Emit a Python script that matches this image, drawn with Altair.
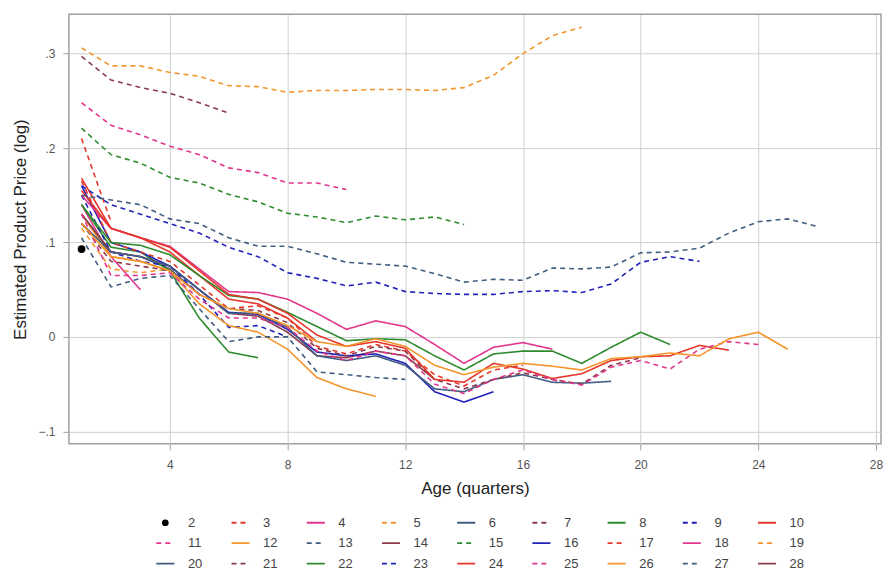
import altair as alt
import pandas as pd

# ---- data: estimated log price by age (quarters), one list per cohort ----
s02 = [0.093]
s03 = [0.210, 0.122]
s04 = [0.140, 0.085, 0.050]
s05 = [0.115, 0.072, 0.068, 0.072]
s06 = [0.130, 0.090, 0.085, 0.072, 0.045]
s07 = [0.297, 0.272, 0.264, 0.258, 0.248, 0.237]
s08 = [0.140, 0.095, 0.090, 0.070, 0.020, -0.016, -0.022]
s09 = [0.150, 0.090, 0.080, 0.075, 0.045, 0.010, 0.012, 0.000]
s10 = [0.168, 0.115, 0.105, 0.090, 0.065, 0.040, 0.035, 0.020, -0.005]
s11 = [0.248, 0.224, 0.214, 0.202, 0.193, 0.179, 0.174, 0.163, 0.163, 0.156]
s12 = [0.130, 0.085, 0.080, 0.070, 0.035, 0.012, 0.005, -0.013, -0.043, -0.055, -0.063]
s13 = [0.105, 0.053, 0.062, 0.065, 0.030, -0.005, 0.000, 0.000, -0.037, -0.040, -0.043, -0.045]
s14 = [0.130, 0.090, 0.085, 0.075, 0.050, 0.025, 0.022, 0.005, -0.020, -0.022, -0.015, -0.020, -0.045]
s15 = [0.221, 0.193, 0.184, 0.169, 0.163, 0.151, 0.143, 0.131, 0.127, 0.121, 0.128, 0.124, 0.127, 0.119]
s16 = [0.160, 0.100, 0.090, 0.075, 0.050, 0.026, 0.024, 0.008, -0.016, -0.020, -0.018, -0.028, -0.058, -0.069, -0.058]
s17 = [0.165, 0.100, 0.090, 0.080, 0.055, 0.030, 0.033, 0.020, -0.010, -0.018, -0.008, -0.015, -0.040, -0.052, -0.035, -0.030]
s18 = [0.150, 0.115, 0.105, 0.096, 0.072, 0.048, 0.047, 0.040, 0.025, 0.008, 0.017, 0.011, -0.008, -0.028, -0.011, -0.006, -0.013]
s19 = [0.306, 0.287, 0.287, 0.280, 0.276, 0.266, 0.265, 0.259, 0.261, 0.261, 0.262, 0.262, 0.261, 0.264, 0.277, 0.300, 0.319, 0.328]
s20 = [0.120, 0.090, 0.085, 0.075, 0.050, 0.025, 0.025, 0.010, -0.020, -0.025, -0.020, -0.030, -0.055, -0.058, -0.045, -0.040, -0.048, -0.049, -0.047]
s21 = [0.120, 0.080, 0.075, 0.070, 0.045, 0.030, 0.028, 0.015, -0.012, -0.020, -0.010, -0.015, -0.045, -0.055, -0.045, -0.038, -0.045, -0.050, -0.030, -0.022]
s22 = [0.140, 0.100, 0.097, 0.087, 0.065, 0.044, 0.040, 0.026, 0.011, -0.004, -0.002, -0.003, -0.020, -0.035, -0.018, -0.015, -0.015, -0.028, -0.011, 0.005, -0.008]
s23 = [0.160, 0.140, 0.130, 0.120, 0.110, 0.095, 0.085, 0.068, 0.062, 0.054, 0.058, 0.048, 0.046, 0.045, 0.045, 0.048, 0.049, 0.047, 0.056, 0.079, 0.085, 0.080]
s24 = [0.155, 0.115, 0.105, 0.095, 0.070, 0.045, 0.040, 0.025, 0.002, -0.010, -0.005, -0.012, -0.045, -0.048, -0.028, -0.034, -0.044, -0.039, -0.025, -0.021, -0.020, -0.009, -0.014]
s25 = [0.130, 0.065, 0.065, 0.068, 0.040, 0.020, 0.020, 0.010, -0.015, -0.025, -0.015, -0.020, -0.050, -0.060, -0.045, -0.035, -0.045, -0.051, -0.032, -0.025, -0.034, -0.013, -0.005, -0.008]
s26 = [0.120, 0.085, 0.080, 0.070, 0.045, 0.030, 0.025, 0.012, -0.005, -0.010, -0.002, -0.010, -0.030, -0.040, -0.032, -0.028, -0.031, -0.035, -0.023, -0.021, -0.017, -0.020, -0.002, 0.005, -0.013]
s27 = [0.150, 0.145, 0.140, 0.125, 0.120, 0.105, 0.096, 0.096, 0.088, 0.079, 0.077, 0.075, 0.067, 0.058, 0.061, 0.060, 0.073, 0.072, 0.074, 0.089, 0.090, 0.094, 0.110, 0.122, 0.125, 0.117]
s28 = []

series_values = [s02, s03, s04, s05, s06, s07, s08, s09, s10, s11, s12, s13, s14, s15,
                 s16, s17, s18, s19, s20, s21, s22, s23, s24, s25, s26, s27, s28]
series_names = [str(k) for k in range(2, 29)]

x_ticks = [4, 8, 12, 16, 20, 24, 28]
y_ticks = [-0.1, 0.0, 0.1, 0.2, 0.3]

# ---- styling ----
palette = ["#e5382c", "#e2368d", "#f4952c", "#425d80", "#8a3c4c", "#2e8b2e", "#2222bb"]
colors = ["#000000"] + [palette[(k - 3) % 7] for k in range(3, 29)]
dashes = [[1, 0]] + [[5, 4] if k % 2 == 1 else [1, 0] for k in range(3, 29)]

FONT = "Liberation Sans"

rows = []
for name, vals in zip(series_names, series_values):
    for i, v in enumerate(vals):
        rows.append({"series": name, "age": i + 1, "price": v})
df = pd.DataFrame(rows)
line_df = df[df["series"] != "2"]
dot_df = df[df["series"] == "2"]

color_scale = alt.Scale(domain=series_names, range=colors)
dash_scale = alt.Scale(domain=series_names, range=dashes)
x_scale = alt.Scale(domain=[0.571, 28.17], nice=False, zero=False)
y_scale = alt.Scale(domain=[-0.1132, 0.3416], nice=False, zero=False)

x_axis = alt.Axis(values=x_ticks, title="Age (quarters)", grid=True, gridColor="#d0d0d0",
                  domain=False, tickSize=6, tickColor="#a0a0a0", labelFontSize=12,
                  labelColor="#555555", labelFont=FONT, labelPadding=10, titleFont=FONT,
                  titleFontSize=17, titleFontWeight="normal", titleColor="#222222",
                  titlePadding=10)
y_axis = alt.Axis(values=y_ticks, title="Estimated Product Price (log)", grid=True,
                  gridColor="#d0d0d0", domain=False, tickSize=6, tickColor="#a0a0a0",
                  labelFontSize=12, labelColor="#555555", labelFont=FONT, labelPadding=8,
                  labelExpr="datum.value == 0 ? '0' : replace(format(datum.value, '.1f'), '0.', '.')",
                  titleFont=FONT, titleFontSize=17, titleFontWeight="normal",
                  titleColor="#222222", titlePadding=8)

lines = alt.Chart(line_df).mark_line(strokeWidth=1.6, clip=True).encode(
    x=alt.X("age:Q", scale=x_scale, axis=x_axis),
    y=alt.Y("price:Q", scale=y_scale, axis=y_axis),
    color=alt.Color("series:N", scale=color_scale, legend=None),
    strokeDash=alt.StrokeDash("series:N", scale=dash_scale, legend=None),
    detail="series:N",
    order="age:Q",
)
dot = alt.Chart(dot_df).mark_circle(size=60, color="#000000", opacity=1).encode(
    x=alt.X("age:Q", scale=x_scale),
    y=alt.Y("price:Q", scale=y_scale),
)
main = alt.layer(lines, dot).properties(
    width=813, height=430,
    view=alt.ViewBackground(stroke="#a0a0a0", strokeWidth=1.5),
)

# ---- custom legend (9 columns x 3 rows) ----
leg = pd.DataFrame({"series": series_names, "label": series_names})
leg["col"] = [i % 9 for i in range(len(series_names))]
leg["row"] = [i // 9 for i in range(len(series_names))]
leg["x1"] = leg["col"] - 0.12
leg["x2"] = leg["col"] + 0.12
leg["tx"] = leg["col"] + 0.30

lx = alt.Scale(domain=[-1.2815, 9.515], nice=False, zero=False)
ly = alt.Scale(domain=[-0.537, 2.341], nice=False, zero=False, reverse=True)

leg_lines = alt.Chart(leg[leg["series"] != "2"]).mark_rule(strokeWidth=1.8).encode(
    x=alt.X("x1:Q", scale=lx, axis=None),
    x2="x2:Q",
    y=alt.Y("row:Q", scale=ly, axis=None),
    color=alt.Color("series:N", scale=color_scale, legend=None),
    strokeDash=alt.StrokeDash("series:N", scale=dash_scale, legend=None),
)
leg_dot = alt.Chart(leg[leg["series"] == "2"]).mark_circle(size=45, color="#000000", opacity=1).encode(
    x=alt.X("col:Q", scale=lx, axis=None),
    y=alt.Y("row:Q", scale=ly, axis=None),
)
leg_text = alt.Chart(leg).mark_text(align="left", baseline="middle", fontSize=13,
                                    font=FONT, color="#444444").encode(
    x=alt.X("tx:Q", scale=lx, axis=None),
    y=alt.Y("row:Q", scale=ly, axis=None),
    text="label:N",
)
legend = alt.layer(leg_lines, leg_dot, leg_text).properties(
    width=813, height=59,
    view=alt.ViewBackground(stroke="transparent"),
)

chart = alt.vconcat(main, legend, spacing=13).resolve_scale(
    x="independent", y="independent"
).properties(
    padding={"left": 3, "top": 5, "right": -1, "bottom": 0},
    background="white",
)

chart.save("out.html", embed_options={"renderer": "svg", "actions": False})
